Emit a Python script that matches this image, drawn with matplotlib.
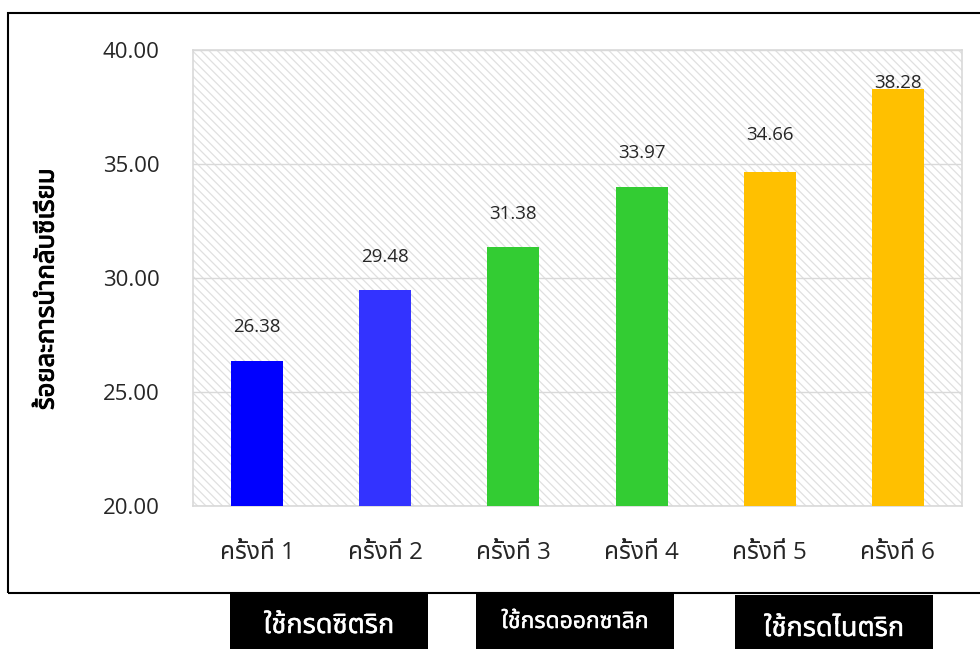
import matplotlib
matplotlib.use('Agg')
import matplotlib.pyplot as plt
import matplotlib.patheffects as pe
from matplotlib import font_manager
from matplotlib.ft2font import FT2Font
from matplotlib.patches import Rectangle

# data
rounds = ['ครั้งที่ 1', 'ครั้งที่ 2', 'ครั้งที่ 3', 'ครั้งที่ 4', 'ครั้งที่ 5', 'ครั้งที่ 6']
recovery = [26.38, 29.48, 31.38, 33.97, 34.66, 38.28]
bar_colors = ['#0000FF', '#3333FF', '#33CC33', '#33CC33', '#FFC000', '#FFC000']
y_ticks = [20, 25, 30, 35, 40]
y_title = 'ร้อยละการนำกลับซีเรียม'
acid_groups = ['ใช้กรดซิตริก', 'ใช้กรดออกซาลิก', 'ใช้กรดไนตริก']

# label placement (data units above bar top), hand placed like the original
label_offsets = [1.47, 1.44, 1.43, 1.51, 1.61, 0.27]

W, H = 980, 649


def find_thai_font():
    """pick an installed font that has Thai glyphs"""
    found = []
    for f in font_manager.fontManager.ttflist:
        try:
            if 0x0E04 in FT2Font(f.fname).get_charmap():
                found.append(f.name)
        except Exception:
            continue
    for pref in ['Noto Sans Thai', 'Noto Sans Thai UI', 'Leelawadee UI', 'Tahoma',
                 'Loma', 'Garuda', 'Waree', 'Kinnari', 'Norasi', 'FreeSans']:
        if pref in found:
            return pref
    return found[0] if found else 'DejaVu Sans'


THAI = find_thai_font()
NUM = 'Open Sans'
plt.rcParams['font.family'] = [NUM, THAI, 'DejaVu Sans']
plt.rcParams['hatch.color'] = '#e0e0e0'
plt.rcParams['hatch.linewidth'] = 0.9


def fx(px):
    return px / W


def fy(py):
    return 1 - py / H


fig = plt.figure(figsize=(W / 100, H / 100), dpi=100)
ax = fig.add_axes([fx(193), fy(506), fx(962) - fx(193), fy(50) - fy(506)])

# hatched plot area like the excel pattern fill
ax.add_patch(Rectangle((0, 0), 1, 1, transform=ax.transAxes, facecolor='white',
                       edgecolor='#e0e0e0', hatch='\\\\\\\\', lw=0, zorder=0))

x = list(range(len(rounds)))
ax.bar(x, [v - y_ticks[0] for v in recovery], bottom=y_ticks[0], width=0.405,
       color=bar_colors, zorder=3)

for i, v in enumerate(recovery):
    ax.text(i, v + label_offsets[i], f'{v:.2f}', ha='center', va='center',
            fontsize=13.5, color='#262626', zorder=4)

ax.set_xlim(-0.5, len(rounds) - 0.5)
ax.set_ylim(y_ticks[0], y_ticks[-1])
ax.set_yticks(y_ticks)
ax.set_yticklabels([f'{t:.2f}' for t in y_ticks])
ax.set_xticks(x)
ax.set_xticklabels(rounds)
ax.tick_params(axis='y', length=0, pad=24, labelsize=16, labelcolor='#262626')
ax.tick_params(axis='x', length=0, pad=25, labelsize=17.5, labelcolor='#262626')

ax.yaxis.grid(True, color='#d9d9d9', lw=1.0, zorder=1)
ax.set_axisbelow(False)
for sp in ax.spines.values():
    sp.set_color('#d9d9d9')
    sp.set_linewidth(1.2)
    sp.set_zorder(2)

# the thai font has no bold face, so thicken with a stroke
bold_k = [pe.withStroke(linewidth=0.7, foreground='black')]
fig.text(fx(47), fy(289), y_title, rotation=90, ha='center', va='center',
         fontsize=18.5, family=[THAI, 'DejaVu Sans'], path_effects=bold_k)

# outer frame
fig.add_artist(Rectangle((fx(8), fy(593)), fx(1000) - fx(8), fy(13) - fy(593),
                         transform=fig.transFigure, fill=False, edgecolor='black', lw=1.5))

# acid group boxes under the chart
bold_w = [pe.withStroke(linewidth=0.3, foreground='white')]
boxes = [(230, 428, 592, 626, 19.5), (476, 674, 592, 622, 16.5), (735, 933, 595, 629, 19.5)]
for (x0, x1, top, ty, fs), name in zip(boxes, acid_groups):
    fig.add_artist(Rectangle((fx(x0), fy(H + 5)), fx(x1) - fx(x0), fy(top) - fy(H + 5),
                             transform=fig.transFigure, facecolor='black', edgecolor='none'))
    fig.text(fx((x0 + x1) / 2), fy(ty), name, ha='center', va='center', color='white',
             fontsize=fs, family=[THAI, 'DejaVu Sans'], path_effects=bold_w)

fig.savefig('out.png', dpi=100)
